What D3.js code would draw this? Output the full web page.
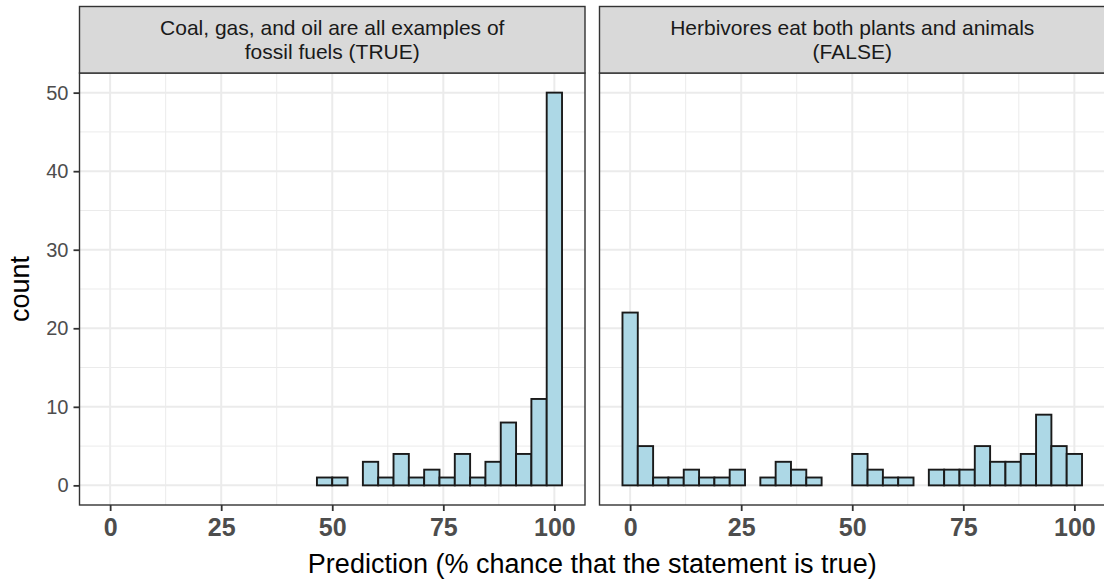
<!DOCTYPE html>
<html>
<head>
<meta charset="utf-8">
<script src="https://cdn.jsdelivr.net/npm/d3@7"></script>
<style>
  body { margin: 0; background: #fff; }
  text { font-family: "Liberation Sans", Arial, sans-serif; }
</style>
</head>
<body>
<div id="chart"></div>
<script>
const width = 1104, height = 579;

// 30 bins over 0..100 (bin width 100/29), counts per bin
const binWidth = 100 / 29;
const binCenters = d3.range(30).map(k => k * binWidth);

const panelTitles = [
  ["Coal, gas, and oil are all examples of", "fossil fuels (TRUE)"],
  ["Herbivores eat both plants and animals", "(FALSE)"]
];

const countsTrue = [0,0,0,0,0,0,0,0,0,0,0,0,0,0,1,1,0,3,1,4,1,2,1,4,1,3,8,4,11,50];
const countsFalse = [22,5,1,1,2,1,1,2,0,1,3,2,1,0,0,4,2,1,1,0,2,2,2,5,3,3,4,9,5,4];
const panelCounts = [countsTrue, countsFalse];

const xTicks = [0, 25, 50, 75, 100];
const xMinor = [12.5, 37.5, 62.5, 87.5];
const yTicks = [0, 10, 20, 30, 40, 50];
const yMinor = [5, 15, 25, 35, 45];

const panelX = [79.5, 599.5], panelW = 505.5;
const stripTop = 6.5, panelTop = 73, panelBottom = 505;

const svg = d3.select("#chart")
  .append("svg")
  .attr("width", width)
  .attr("height", height);

const xDom = [-binWidth / 2, 100 + binWidth / 2];
const xPad = (xDom[1] - xDom[0]) * 0.05;
const y = d3.scaleLinear()
  .domain([-2.5, 52.5])
  .range([panelBottom, panelTop]);

panelCounts.forEach(function(counts, p) {
  const x = d3.scaleLinear()
    .domain([xDom[0] - xPad, xDom[1] + xPad])
    .range([panelX[p], panelX[p] + panelW]);

  const g = svg.append("g");

  // grid
  g.selectAll(".ymin").data(yMinor).enter().append("line")
    .attr("x1", panelX[p]).attr("x2", panelX[p] + panelW)
    .attr("y1", d => y(d)).attr("y2", d => y(d))
    .attr("stroke", "#ebebeb").attr("stroke-width", 1);
  g.selectAll(".xmin").data(xMinor).enter().append("line")
    .attr("x1", d => x(d)).attr("x2", d => x(d))
    .attr("y1", panelTop).attr("y2", panelBottom)
    .attr("stroke", "#ebebeb").attr("stroke-width", 1);
  g.selectAll(".ymaj").data(yTicks).enter().append("line")
    .attr("x1", panelX[p]).attr("x2", panelX[p] + panelW)
    .attr("y1", d => y(d)).attr("y2", d => y(d))
    .attr("stroke", "#ebebeb").attr("stroke-width", 2);
  g.selectAll(".xmaj").data(xTicks).enter().append("line")
    .attr("x1", d => x(d)).attr("x2", d => x(d))
    .attr("y1", panelTop).attr("y2", panelBottom)
    .attr("stroke", "#ebebeb").attr("stroke-width", 2);

  // bars
  g.selectAll("rect.bar").data(counts).enter().append("rect")
    .attr("class", "bar")
    .attr("x", (d, i) => x(binCenters[i] - binWidth / 2))
    .attr("width", x(binWidth) - x(0))
    .attr("y", d => y(d))
    .attr("height", d => y(0) - y(d))
    .attr("fill", "#add8e6")
    .attr("stroke", "#1a1a1a")
    .attr("stroke-width", 1.9);

  // panel border
  g.append("rect")
    .attr("x", panelX[p]).attr("y", panelTop)
    .attr("width", panelW).attr("height", panelBottom - panelTop)
    .attr("fill", "none").attr("stroke", "#333").attr("stroke-width", 1.4);

  // strip
  g.append("rect")
    .attr("x", panelX[p]).attr("y", stripTop)
    .attr("width", panelW).attr("height", panelTop - stripTop)
    .attr("fill", "#d9d9d9").attr("stroke", "#333").attr("stroke-width", 1.4);
  g.selectAll(".strip").data(panelTitles[p]).enter().append("text")
    .attr("x", panelX[p] + panelW / 2)
    .attr("y", (d, i) => 35 + i * 24)
    .attr("text-anchor", "middle")
    .style("font-size", "21px")
    .attr("fill", "#1a1a1a")
    .text(d => d);

  // x axis
  const xa = g.append("g")
    .attr("transform", `translate(0, ${panelBottom})`)
    .call(d3.axisBottom(x).tickValues(xTicks).tickSize(6).tickPadding(7));
  xa.select(".domain").remove();
  xa.selectAll("line").attr("stroke", "#333").attr("stroke-width", 1.8);
  xa.selectAll("text")
    .style("font-size", "25px").style("font-weight", "bold")
    .attr("fill", "#4d4d4d");
});

// y axis
const ya = svg.append("g")
  .attr("transform", `translate(${panelX[0]}, 0)`)
  .call(d3.axisLeft(y).tickValues(yTicks).tickSize(6).tickPadding(5));
ya.select(".domain").remove();
ya.selectAll("line").attr("stroke", "#333").attr("stroke-width", 1.8);
ya.selectAll("text").style("font-size", "20px").attr("fill", "#4d4d4d");

// axis titles
svg.append("text")
  .attr("x", (panelX[0] + panelX[1] + panelW) / 2)
  .attr("y", 573)
  .attr("text-anchor", "middle")
  .style("font-size", "27px")
  .text("Prediction (% chance that the statement is true)");

svg.append("text")
  .attr("transform", `translate(${29}, ${(panelTop + panelBottom) / 2}) rotate(-90)`)
  .attr("text-anchor", "middle")
  .style("font-size", "27px")
  .text("count");
</script>
</body>
</html>
